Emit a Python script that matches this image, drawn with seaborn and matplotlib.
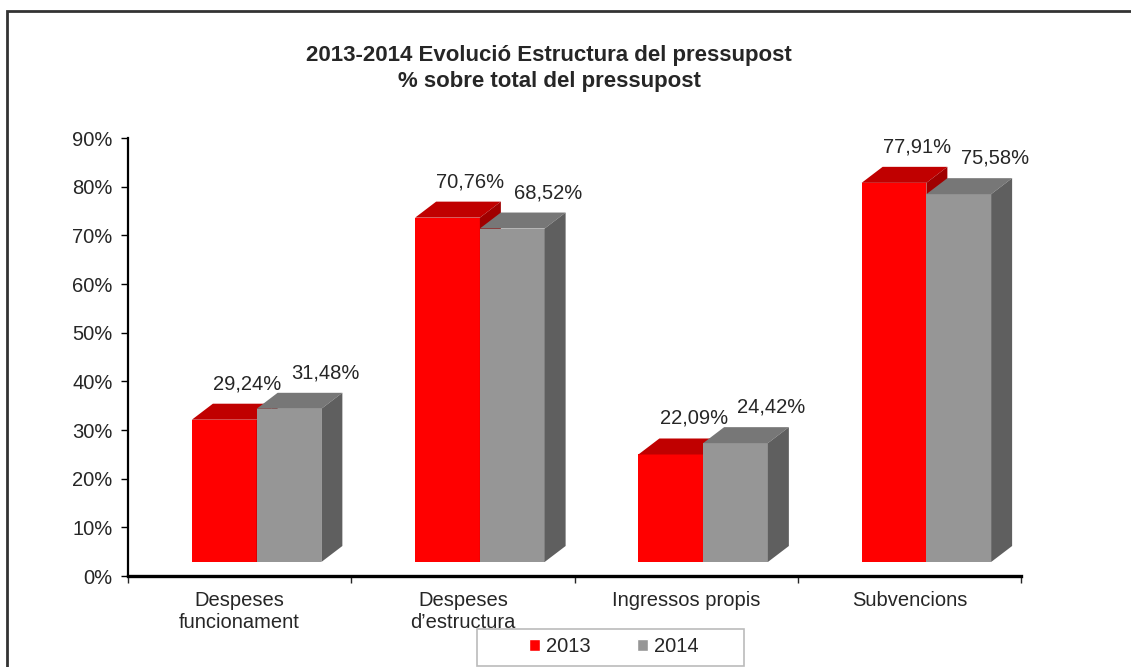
import numpy as np
import pandas as pd
import seaborn as sns
import matplotlib.pyplot as plt
import matplotlib.transforms as mtransforms
from matplotlib.patches import Polygon, Rectangle
from matplotlib.ticker import FuncFormatter, FixedLocator

# data
categories = ["Despeses\nfuncionament", "Despeses\nd\u2019estructura", "Ingressos propis", "Subvencions"]
years = ["2013", "2014"]
values_2013 = [29.24, 70.76, 22.09, 77.91]
values_2014 = [31.48, 68.52, 24.42, 75.58]

front_colors = ["#FF0000", "#969696"]
top_colors = ["#C00000", "#777777"]
side_colors = ["#A00000", "#5F5F5F"]

df = pd.DataFrame({
    "categoria": categories * 2,
    "any": [years[0]] * 4 + [years[1]] * 4,
    "valor": values_2013 + values_2014,
})

sns.set_style("white")
plt.rcParams["font.family"] = ["Liberation Sans", "DejaVu Sans"]

fig = plt.figure(figsize=(11.31, 6.67), dpi=100)
ax = fig.add_axes([128 / 1131, 1 - 576 / 667, 893 / 1131, 438 / 667])

sns.barplot(data=df, x="categoria", y="valor", hue="any", palette=front_colors,
            width=0.58, gap=0, saturation=1, ax=ax, legend=True)
ax.set_xlim(-0.5, 3.5)
ax.set_ylim(0, 90)

# pseudo 3D: shift front faces and add top/side faces
shift = mtransforms.ScaledTranslation(0.17, 0.14, fig.dpi_scale_trans)
dx, dy = 21, 16
label_dx = [40, 53]
for i, cont in enumerate(ax.containers):
    for p, v in zip(cont.patches, [values_2013, values_2014][i]):
        p.set_transform(ax.transData + shift)
        p.set_zorder(2 + i)
        p.set_edgecolor("none")
        bb = p.get_window_extent()
        x0, y0, x1, y1 = bb.x0, bb.y0, bb.x1, bb.y1
        top = Polygon([(x0, y1), (x1, y1), (x1 + dx, y1 + dy), (x0 + dx, y1 + dy)],
                      closed=True, facecolor=top_colors[i], edgecolor="none",
                      transform=mtransforms.IdentityTransform(), zorder=2.5 + i, clip_on=False)
        side = Polygon([(x1, y0), (x1 + dx, y0 + dy), (x1 + dx, y1 + dy), (x1, y1)],
                       closed=True, facecolor=side_colors[i], edgecolor="none",
                       transform=mtransforms.IdentityTransform(), zorder=2.5 + i, clip_on=False)
        ax.add_artist(top)
        ax.add_artist(side)
        xc = p.get_x() + p.get_width() / 2
        ax.annotate(f"{v:.2f}%".replace(".", ","), xy=(xc, v),
                    xytext=(label_dx[i], 50), textcoords="offset pixels",
                    ha="center", va="center", fontsize=14.5, zorder=6,
                    annotation_clip=False)

# axes styling
sns.despine(ax=ax, top=True, right=True)
ax.spines["left"].set_linewidth(1.6)
ax.spines["bottom"].set_linewidth(2.4)
ax.spines["left"].set_color("black")
ax.spines["bottom"].set_color("black")
ax.set_yticks(np.arange(0, 91, 10))
ax.yaxis.set_major_formatter(FuncFormatter(lambda v, _: f"{v:.0f}%"))
ax.tick_params(axis="y", direction="out", length=5, width=1, color="black",
               labelsize=14.5, left=True, pad=6)
ax.xaxis.set_major_locator(FixedLocator([-0.5, 0.5, 1.5, 2.5, 3.5]))
ax.set_xticklabels([])
ax.xaxis.set_minor_locator(FixedLocator([0, 1, 2, 3]))
ax.set_xticklabels(categories, minor=True)
ax.tick_params(axis="x", which="major", direction="out", length=5, width=1, bottom=True)
ax.tick_params(axis="x", which="minor", length=0, labelsize=14.5, pad=11)
ax.set_xlabel("")
ax.set_ylabel("")
ax.grid(False)

# legend (frame drawn separately to get Excel-like padding)
handles, labels = ax.get_legend_handles_labels()
ax.legend(handles, labels, loc="center", bbox_to_anchor=(614 / 1131, 1 - 647 / 667),
          bbox_transform=fig.transFigure, ncol=2, frameon=False,
          fontsize=14.5, handlelength=0.55, handleheight=0.55,
          handletextpad=0.3, columnspacing=2.3, borderpad=0.3,
          borderaxespad=0, title=None)
ax.get_legend().set_zorder(10)
fig.add_artist(Rectangle((477 / 1131, 1 - 666 / 667), 267 / 1131, 37 / 667,
                         transform=fig.transFigure, facecolor="white",
                         edgecolor="#BBBBBB", linewidth=1.2, zorder=-1))

# title
fig.text(549 / 1131, 1 - 56 / 667, "2013-2014 Evoluci\u00f3 Estructura del pressupost",
         ha="center", va="center", fontsize=16, fontweight="bold")
fig.text(549 / 1131, 1 - 81 / 667, "% sobre total del pressupost",
         ha="center", va="center", fontsize=16, fontweight="bold")

# chart frame
fig.add_artist(Rectangle((7 / 1131, -0.05), 1.1, 1 - 11 / 667 + 0.05, transform=fig.transFigure,
                         facecolor="none", edgecolor="#333333", linewidth=2, zorder=-2))

fig.savefig("out.png", dpi=100)
